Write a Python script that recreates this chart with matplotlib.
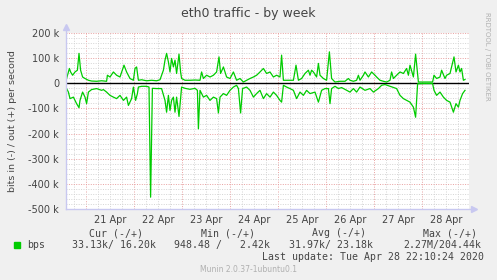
import matplotlib
matplotlib.use("Agg")
import matplotlib.pyplot as plt

# hours since 21 Apr 00:00, values in kbit/s
out_hours = [-9.7, -8.3, -7.7, -6.7, -5.5, -4.3, -3.5, -2.7, -1.7, -0.5, 1.2, 2.8, 5.3, 7.8,
             10.3, 10.7, 12.0, 13.7, 15.3, 17.0, 19.0, 20.3, 22.0, 23.7, 24.5, 25.3, 26.2,
             27.8, 30.3, 32.8, 35.3, 37.0, 38.7, 39.5, 40.3, 41.2, 42.0, 42.8, 43.7, 44.5,
             45.3, 46.5, 47.3, 47.8, 49.5, 52.0, 54.5, 57.0, 57.8, 58.7, 60.3, 62.0, 63.7,
             65.3, 66.5, 67.3, 68.7, 70.3, 72.0, 73.7, 75.3, 77.0, 78.7, 80.3, 82.0,
             83.7, 85.3, 87.0, 88.7, 90.3, 92.0, 93.7, 95.3, 97.0, 97.8, 98.7, 101.2, 103.7,
             105.0, 106.2, 107.8, 109.5, 111.2, 112.0, 112.8, 113.7, 115.3, 116.2, 117.0,
             118.7, 120.3, 121.7, 122.8, 124.5, 127.0, 129.5, 131.2, 132.0, 133.7, 135.3,
             136.2, 137.0, 138.7, 139.5, 141.2, 142.8, 144.5, 145.3, 147.0, 148.7, 150.3,
             152.0, 152.8, 153.7, 155.3, 157.0, 158.7, 160.3, 161.2, 162.0, 163.0, 163.7,
             164.8, 166.2, 168.7, 171.2, 173.3, 174.0, 175.3, 177.0, 177.8, 179.5, 180.3,
             182.0, 182.8, 184.0, 185.0, 186.2, 187.0, 187.8, 188.7, 189.5]
out_kbps = [19, 59, 45, 32, 45, 52, 119, 52, 25, 19, 12, 9, 8, 10,
            8, 32, 25, 45, 32, 25, 72, 45, 19, 12, 59, 65, 12,
            14, 10, 12, 10, 14, 52, 92, 119, 85, 45, 99, 65, 92,
            39, 116, 45, 19, 12, 12, 13, 12, 45, 19, 32, 25, 32,
            45, 105, 39, 65, 25, 19, 45, 12, 19, 5, 12, 19,
            25, 32, 45, 59, 39, 45, 25, 32, 25, 112, 12, 12, 12,
            72, 12, 19, 39, 52, 32, 52, 45, 25, 79, 32,
            19, 12, 125, 19, 5, 8, 8, 19, 12, 8, 12,
            32, 12, 32, 45, 25, 45, 32, 25, 12, 8, 5,
            12, 45, 19, 32, 45, 39, 59, 32, 72, 45, 25,
            116, 5, 5, 5, 5, 32, 19, 25, 52, 19, 32,
            39, 65, 105, 45, 72, 45, 59, 12, 15]

in_hours = [-9.7, -8.8, -8.0, -6.3, -4.7, -3.5, -3.0, -1.7, -0.5, 0.3, 1.2, 2.8, 5.3, 7.8,
            8.7, 10.3, 12.0, 13.7, 15.3, 17.0, 18.7, 20.3, 21.2, 22.8, 23.7, 24.8, 25.7,
            26.2, 27.8, 30.3, 31.5, 32.3, 33.2, 35.3, 37.8, 39.5, 40.3, 41.2, 42.0, 42.8,
            43.7, 44.5, 45.3, 46.5, 47.3, 47.8, 49.5, 52.0, 54.5, 55.7, 56.2, 57.0, 58.7,
            60.3, 62.0, 63.7, 65.3, 66.2, 67.0, 68.7, 70.3, 72.0, 73.7, 75.3, 76.2, 77.3,
            78.3, 80.3, 82.0,
            83.7, 85.3, 87.0, 88.7, 90.3, 92.0, 93.7, 95.3, 97.0, 97.8, 98.7, 100.3, 102.0,
            103.7, 105.3, 107.0, 108.7, 110.3, 112.0, 114.5, 116.2, 117.8, 119.5, 121.2,
            122.0, 122.8, 124.5, 126.2, 127.8, 130.3, 132.0, 133.7, 135.3, 137.0, 139.5,
            142.0, 143.7, 146.2, 147.8, 149.5, 152.0, 155.3, 157.0, 158.7, 160.3, 162.0,
            163.7, 164.8, 165.8, 168.7, 171.2, 173.3, 174.0, 175.3, 177.0, 178.7, 180.3,
            182.0, 183.7, 185.0, 186.2, 187.0, 188.3, 189.5]
in_kbps = [21, 35, 61, 55, 81, 97, 68, 35, 55, 81, 35, 25, 21, 28,
           25, 35, 48, 55, 61, 48, 68, 55, 88, 61, 15, 68, 41,
           15, 12, 12, 15, 453, 20, 21, 21, 68, 115, 48, 108, 68,
           55, 115, 55, 132, 60, 15, 20, 24, 20, 28, 181, 28, 55,
           48, 68, 55, 61, 118, 55, 41, 48, 28, 15, 8, 21, 118,
           21, 15, 28,
           55, 41, 28, 61, 41, 55, 35, 48, 68, 75, 8, 15, 21,
           28, 61, 35, 48, 28, 41, 35, 75, 28, 21, 21,
           81, 21, 12, 21, 17, 28, 35, 21, 35, 15, 28,
           21, 35, 21, 8, 5, 12, 21, 48, 61, 68, 75,
           95, 135, 2, 1, 1, 1, 28, 48, 35, 55, 68,
           75, 115, 81, 95, 68, 41, 28]

day_labels = ["21 Apr", "22 Apr", "23 Apr", "24 Apr", "25 Apr", "26 Apr", "27 Apr", "28 Apr"]
y_ticks = [200, 100, 0, -100, -200, -300, -400, -500]

W, H = 497, 280
fig = plt.figure(figsize=(W / 100, H / 100), dpi=100, facecolor="#f0f0f0")
ax = fig.add_axes([66 / W, (H - 209) / H, 403 / W, 176 / H])
ax.set_facecolor("white")
ax.set_xlim(-10, 191.5)
ax.set_ylim(-500, 200)

txt = "#444444"
dot = (0, (1, 1.5))

# grid
for h in range(-6, 192, 6):
    if h % 24 == 0:
        ax.axvline(h, color="#e8a0a0", lw=0.7, ls=dot, zorder=1)
    else:
        ax.axvline(h, color="#d4d4d4", lw=0.7, ls=dot, zorder=1)
for v in range(-480, 201, 20):
    if v % 100 == 0:
        ax.axhline(v, color="#e8a0a0", lw=0.7, ls=dot, zorder=1)
    else:
        ax.axhline(v, color="#d4d4d4", lw=0.7, ls=dot, zorder=1)

ax.axhline(0, color="black", lw=1.0, zorder=3)
ax.plot(out_hours, out_kbps, color="#00cc00", lw=0.9, zorder=4)
ax.plot(in_hours, [-v for v in in_kbps], color="#00cc00", lw=0.9, zorder=4)

for s in ax.spines.values():
    s.set_visible(False)

# axis lines with arrows
axc = "#c8c8f0"
ax.plot([0, 0], [0, 1.035], transform=ax.transAxes, color=axc, lw=1, clip_on=False, zorder=5)
ax.plot([0, 1.01], [0, 0], transform=ax.transAxes, color=axc, lw=1, clip_on=False, zorder=5)
ax.plot([0], [1.035], transform=ax.transAxes, marker="^", ms=4, color=axc, clip_on=False)
ax.plot([1.012], [0], transform=ax.transAxes, marker=">", ms=4, color=axc, clip_on=False)

ax.set_yticks(y_ticks)
ax.set_yticklabels([("0" if v == 0 else f"{v} k") for v in y_ticks])
ax.set_xticks([12 + 24 * i for i in range(len(day_labels))])
ax.set_xticklabels(day_labels)
ax.tick_params(length=0, labelsize=7, labelcolor=txt)
ax.tick_params(axis="y", pad=5)
ax.tick_params(axis="x", pad=4)

fig.text(248 / W, 1 - 13 / H, "eth0 traffic - by week", ha="center", va="center",
         fontsize=9, color=txt)
fig.text(13 / W, 1 - 121 / H, "bits in (-) / out (+) per second", rotation=90,
         ha="center", va="center", fontsize=6.8, color=txt)
fig.text(487 / W, 1 - 56 / H, "RRDTOOL / TOBI OETIKER", rotation=270,
         ha="center", va="center", fontsize=5, color="#b0b0b0")

# legend
mono = "DejaVu Sans Mono"
fs = 7.1
fig.patches.append(plt.Rectangle((14 / W, 1 - 248 / H), 6 / W, 6 / H,
                                 transform=fig.transFigure, color="#00cc00"))
fig.text(27 / W, 1 - 245 / H, "bps", family=mono, fontsize=fs, color=txt, va="center")
for x, s in [(89, "Cur (-/+)"), (201, "Min (-/+)"), (312, "Avg (-/+)"), (423, "Max (-/+)")]:
    fig.text(x / W, 1 - 233 / H, s, family=mono, fontsize=fs, color=txt, va="center")
for x, s in [(72, "33.13k/ 16.20k"), (174, "948.48 /   2.42k"),
             (289, "31.97k/ 23.18k"), (403, "2.27M/204.44k")]:
    fig.text(x / W, 1 - 245 / H, s, family=mono, fontsize=fs, color=txt, va="center")
fig.text(262 / W, 1 - 257 / H, "Last update: Tue Apr 28 22:10:24 2020", family=mono,
         fontsize=fs, color=txt, va="center")
fig.text(248 / W, 1 - 269 / H, "Munin 2.0.37-1ubuntu0.1", ha="center", va="center",
         fontsize=5.5, color="#b0b0b0")

fig.savefig("out.png", dpi=100, facecolor=fig.get_facecolor())
